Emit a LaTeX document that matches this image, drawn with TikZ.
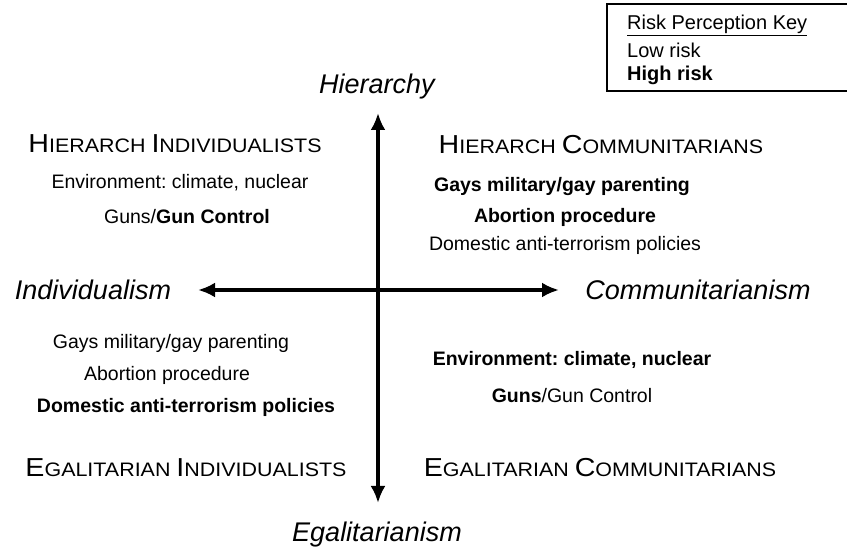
\documentclass[tikz,border=0pt]{standalone}
\usepackage{fontspec}
\usetikzlibrary{arrows.meta}
\setmainfont{Liberation Sans}
\newfontfamily\headfont{Liberation Sans}[FakeStretch=1.1]
\frenchspacing
% fake small caps for the four group names
\newcommand{\grp}[4]{{\headfont\fontsize{26}{28}\selectfont #1}{\headfont\fontsize{19.5}{22}\selectfont #2\ }{\headfont\fontsize{26}{28}\selectfont #3}{\headfont\fontsize{19.5}{22}\selectfont #4}}
\begin{document}
\begin{tikzpicture}[>={Latex[length=17pt,width=15pt]}, x=1pt, y=-1pt,
  axis/.style={font=\fontsize{27}{30}\selectfont\itshape, inner sep=0pt},
  item/.style={font=\fontsize{19.5}{22}\selectfont, inner sep=0pt},
  keyline/.style={font=\fontsize{20}{22}\selectfont, anchor=west, inner sep=0pt}]
\useasboundingbox (0,0) rectangle (847,553);

% key
\draw[line width=1.5pt] (607,4) rectangle (870,91);
\node(KeyT)[keyline] at (627,25) {\underline{Risk Perception Key}};
\node(KeyL)[keyline] at (627,50) {Low risk};
\node(KeyH)[keyline, font=\fontsize{20}{22}\selectfont\bfseries] at (627,75) {High risk};

% axes
\node(Hier)[axis] at (377,87) {Hierarchy};
\node(Egal)[axis] at (377,535) {Egalitarianism};
\node(Indiv)[axis] at (93,290) {Individualism};
\node(Comm)[axis] at (698,290) {Communitarianism};
\coordinate(Top) at (378,113);
\coordinate(Bot) at (378,503);
\coordinate(Left) at (198,290);
\coordinate(Right) at (559,290);
\draw[line width=3.5pt, <->] (Top) -- (Bot);
\draw[line width=3.5pt, <->] (Left) -- (Right);

% groups
\node(HI) at (175,144) {\grp{H}{IERARCH}{I}{NDIVIDUALISTS}};
\node(HC) at (601,145) {\grp{H}{IERARCH}{C}{OMMUNITARIANS}};
\node(EI) at (186,468) {\grp{E}{GALITARIAN}{I}{NDIVIDUALISTS}};
\node(EC) at (600,468) {\grp{E}{GALITARIAN}{C}{OMMUNITARIANS}};

% hierarch individualists
\node(HI1)[item] at (180,183) {Environment: climate, nuclear};
\node(HI2)[item] at (187,217) {Guns/\textbf{Gun Control}};

% hierarch communitarians
\node(HC1)[item, font=\fontsize{19.5}{22}\selectfont\bfseries] at (562,187) {Gays military/gay parenting};
\node(HC2)[item, font=\fontsize{19.5}{22}\selectfont\bfseries] at (565,217) {Abortion procedure};
\node(HC3)[item] at (565,245) {Domestic anti-terrorism policies};

% egalitarian individualists
\node(EI1)[item] at (171,343) {Gays military/gay parenting};
\node(EI2)[item] at (167,375) {Abortion procedure};
\node(EI3)[item, font=\fontsize{19.5}{22}\selectfont\bfseries] at (186,407) {Domestic anti-terrorism policies};

% egalitarian communitarians
\node(EC1)[item, font=\fontsize{19.5}{22}\selectfont\bfseries] at (572,360) {Environment: climate, nuclear};
\node(EC2)[item] at (572,396) {\textbf{Guns}/Gun Control};
\end{tikzpicture}
\end{document}
